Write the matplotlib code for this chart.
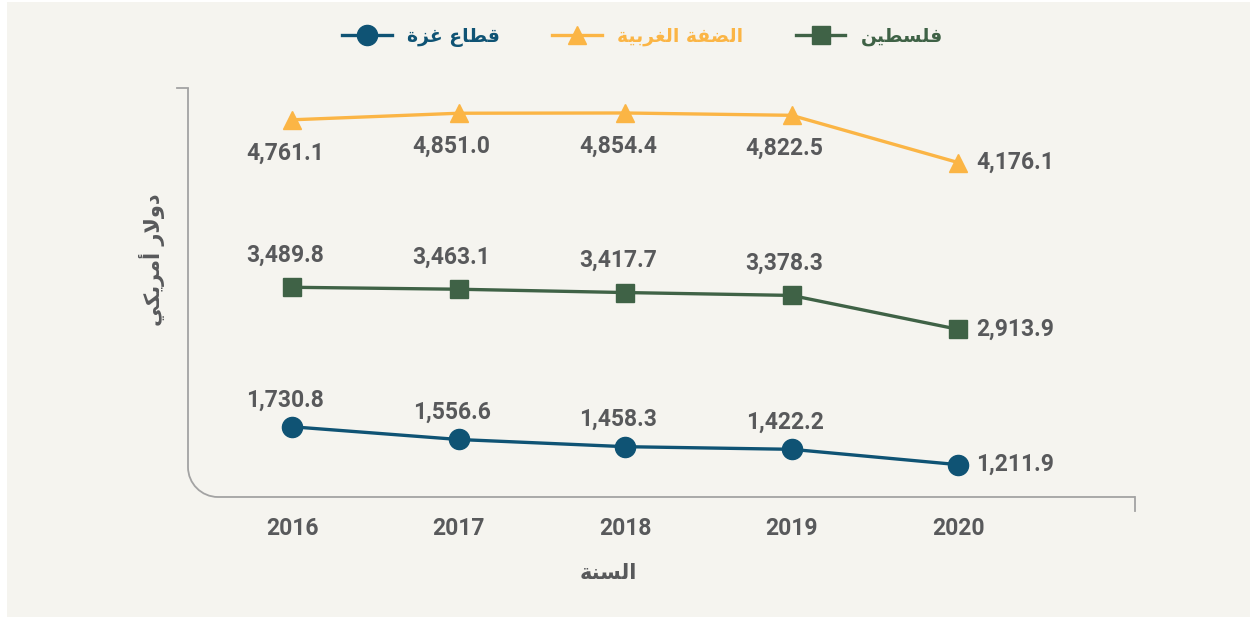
import matplotlib
matplotlib.use("Agg")
import matplotlib.pyplot as plt
from matplotlib.path import Path
from matplotlib.patches import PathPatch, Rectangle

# data
years = [2016, 2017, 2018, 2019, 2020]
west_bank = [4761.1, 4851.0, 4854.4, 4822.5, 4176.1]
palestine = [3489.8, 3463.1, 3417.7, 3378.3, 2913.9]
gaza = [1730.8, 1556.6, 1458.3, 1422.2, 1211.9]

# arabic text, written with presentation forms (logical order), reversed for display
def rtl(s):
    return s[::-1]

name_gaza = rtl("\uFED7\uFEC4\uFE8E\uFEC9 \uFECF\uFEB0\uFE93")
name_wb = rtl("\uFE8D\uFEDF\uFEC0\uFED4\uFE94 \uFE8D\uFEDF\uFED0\uFEAE\uFE91\uFEF4\uFE94")
name_pal = rtl("\uFED3\uFEE0\uFEB4\uFEC4\uFEF4\uFEE6")
xlabel_txt = rtl("\uFE8D\uFEDF\uFEB4\uFEE8\uFE94")
ylabel_txt = rtl("\uFEA9\uFEED\uFEFB\uFEAD \uFE83\uFEE3\uFEAE\uFEF3\uFEDC\uFEF2")

BG = "#f5f4ef"
GREY = "#58595b"
AXIS = "#a3a3a3"
C_WB = "#fbb545"
C_PAL = "#3f6246"
C_GAZA = "#0f5374"

fig = plt.figure(figsize=(12.5, 6.2), dpi=100, facecolor="white")
fig.patches.append(Rectangle((7 / 1250, 3 / 620), 1 - 7 / 1250, 1 - 5 / 620,
                             transform=fig.transFigure, facecolor=BG, edgecolor="none", zorder=-10))

ax = fig.add_axes([0.1504, 0.1984, 0.7576, 0.6597])
ax_pal = ax.twinx()
ax_wb = ax.twinx()
for a in (ax, ax_pal, ax_wb):
    a.set_facecolor("none")
    for s in a.spines.values():
        s.set_visible(False)
    a.tick_params(left=False, right=False, labelleft=False, labelright=False)

span = 5603
ax.set_ylim(6372 - span, 6372)
ax_pal.set_ylim(6220 - span, 6220)
ax_wb.set_ylim(5197 - span, 5197)
ax.set_xlim(2015.375, 2021.063)

lw = 2.4
l_wb, = ax_wb.plot(years, west_bank, color=C_WB, lw=lw, marker="^", ms=13, label=name_wb)
l_pal, = ax_pal.plot(years, palestine, color=C_PAL, lw=lw, marker="s", ms=12.5, label=name_pal)
l_gaza, = ax.plot(years, gaza, color=C_GAZA, lw=lw, marker="o", ms=14.5, label=name_gaza)

lab_font = dict(family=["Roboto", "DejaVu Sans"], fontsize=16.5, fontweight="bold", color=GREY)


def fmt(v):
    return f"{v:,.1f}"


def label_series(a, vals, dy):
    for i, (x, v) in enumerate(zip(years, vals)):
        if i == len(years) - 1:
            a.annotate(fmt(v), (x, v), xytext=(18, 0), textcoords="offset pixels",
                       ha="left", va="center", **lab_font)
        else:
            a.annotate(fmt(v), (x, v), xytext=(-7, dy), textcoords="offset pixels",
                       ha="center", va="center", **lab_font)


label_series(ax_wb, west_bank, -33)
label_series(ax_pal, palestine, 32)
label_series(ax, gaza, 27)

# axis lines with rounded corner
rx, ry = 30 / 947, 30 / 409
k = 0.552
verts = [(0, 1), (0, ry), (0, ry * (1 - k)), (rx * (1 - k), 0), (rx, 0), (1, 0)]
codes = [Path.MOVETO, Path.LINETO, Path.CURVE4, Path.CURVE4, Path.CURVE4, Path.LINETO]
ax.add_patch(PathPatch(Path(verts, codes), transform=ax.transAxes, fill=False,
                       edgecolor=AXIS, lw=1.3, clip_on=False))
ax.plot([-11 / 947, 0], [1, 1], transform=ax.transAxes, color=AXIS, lw=1.3, clip_on=False)
ax.plot([1, 1], [0, -14 / 409], transform=ax.transAxes, color=AXIS, lw=1.3, clip_on=False)

ax.set_xticks(years)
ax.set_xticklabels([str(y) for y in years])
ax.tick_params(axis="x", bottom=False, labelbottom=True, pad=11, labelsize=16.5, labelcolor=GREY)
for t in ax.get_xticklabels():
    t.set_fontfamily(["Roboto", "DejaVu Sans"])
    t.set_fontweight("bold")

fig.text(608 / 1250, 1 - 573 / 620, xlabel_txt, ha="center", va="center",
         family="DejaVu Sans", fontsize=15, fontweight="bold", color=GREY)
fig.text(152 / 1250, 1 - 260 / 620, ylabel_txt, ha="center", va="center", rotation=90,
         family="DejaVu Sans", fontsize=15, fontweight="bold", color=GREY)

leg = fig.legend(handles=[l_gaza, l_wb, l_pal], loc="center", bbox_to_anchor=(0.514, 1 - 37 / 620),
                 ncol=3, frameon=False, handlelength=2.65, handletextpad=0.8, columnspacing=2.8,
                 prop=dict(family="DejaVu Sans", size=13.5, weight="bold"), labelcolor="linecolor")

fig.savefig("out.png", dpi=100, facecolor="white")
